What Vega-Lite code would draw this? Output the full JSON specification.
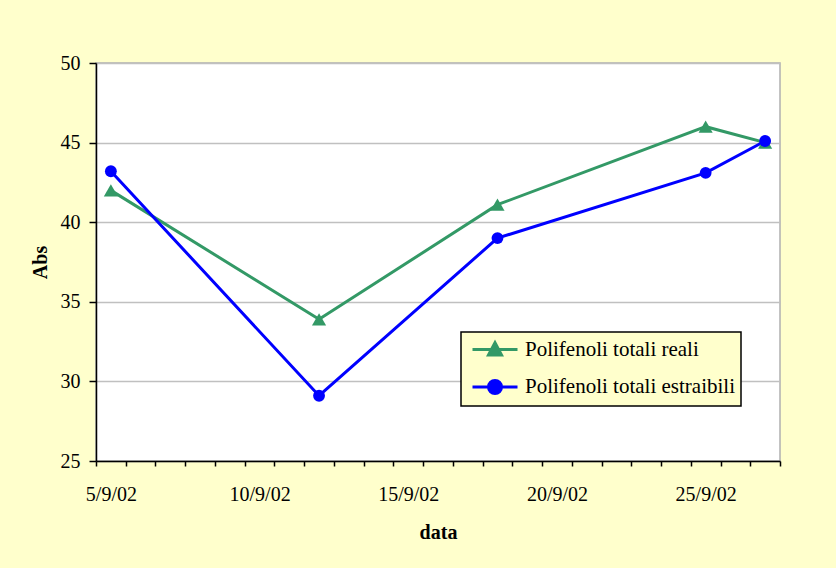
{
  "$schema": "https://vega.github.io/schema/vega-lite/v6.json",
  "width": 684,
  "height": 398,
  "autosize": {"type": "none"},
  "padding": {"left": 96, "top": 63, "right": 56, "bottom": 107},
  "background": "#FFFFCC",
  "config": {
    "font": "Liberation Serif",
    "view": {"fill": "#FFFFFF", "stroke": "#B0B0B0", "strokeWidth": 1.5}
  },
  "data": {
    "values": [
      {"date": "2002-09-05T12:00:00Z", "serie": "Polifenoli totali reali", "abs": 42.0},
      {"date": "2002-09-12T12:00:00Z", "serie": "Polifenoli totali reali", "abs": 33.9},
      {"date": "2002-09-18T12:00:00Z", "serie": "Polifenoli totali reali", "abs": 41.1},
      {"date": "2002-09-25T12:00:00Z", "serie": "Polifenoli totali reali", "abs": 46.0},
      {"date": "2002-09-27T12:00:00Z", "serie": "Polifenoli totali reali", "abs": 45.0},
      {"date": "2002-09-05T12:00:00Z", "serie": "Polifenoli totali estraibili", "abs": 43.2},
      {"date": "2002-09-12T12:00:00Z", "serie": "Polifenoli totali estraibili", "abs": 29.1},
      {"date": "2002-09-18T12:00:00Z", "serie": "Polifenoli totali estraibili", "abs": 39.0},
      {"date": "2002-09-25T12:00:00Z", "serie": "Polifenoli totali estraibili", "abs": 43.1},
      {"date": "2002-09-27T12:00:00Z", "serie": "Polifenoli totali estraibili", "abs": 45.1}
    ]
  },
  "layer": [
    {
      "mark": {"type": "line", "strokeWidth": 3},
      "encoding": {
        "x": {
          "field": "date", "type": "temporal",
          "scale": {"type": "utc", "domain": [{"year": 2002, "month": 9, "date": 5, "utc": true}, {"year": 2002, "month": 9, "date": 28, "utc": true}]},
          "axis": {
            "orient": "bottom",
            "title": "data",
            "titleFont": "Liberation Serif", "titleFontSize": 20, "titleFontWeight": "bold", "titleColor": "#000000",
            "titlePadding": 18,
            "tickCount": {"interval": "day", "step": 1},
            "labelExpr": "utcdate(datum.value) % 5 == 0 && utcdate(datum.value) < 28 ? utcFormat(datum.value, '%-d/%-m/%y') : ''",
            "labelOffset": 14.9,
            "labelFont": "Liberation Serif", "labelFontSize": 20, "labelColor": "#000000",
            "labelPadding": 18, "labelBaseline": "top", "labelOverlap": false, "labelFlush": false,
            "tickSize": 5, "tickColor": "#000000", "tickWidth": 1.5,
            "domainColor": "#000000", "domainWidth": 1.5,
            "grid": false
          }
        },
        "y": {
          "field": "abs", "type": "quantitative",
          "scale": {"domain": [25, 50], "nice": false, "zero": false},
          "axis": {
            "title": "Abs",
            "titleFont": "Liberation Serif", "titleFontSize": 20, "titleFontWeight": "bold", "titleColor": "#000000",
            "titlePadding": 10,
            "values": [25, 30, 35, 40, 45, 50],
            "labelFont": "Liberation Serif", "labelFontSize": 20, "labelColor": "#000000", "labelPadding": 9,
            "tickSize": 7, "tickColor": "#000000", "tickWidth": 1.5,
            "domainColor": "#000000", "domainWidth": 1.5,
            "grid": true, "gridColor": "#C0C0C0", "gridWidth": 1.5
          }
        },
        "color": {
          "field": "serie", "type": "nominal",
          "scale": {"domain": ["Polifenoli totali reali", "Polifenoli totali estraibili"], "range": ["#339966", "#0000FF"]},
          "legend": {
            "title": null,
            "orient": "none", "legendX": 365, "legendY": 269,
            "direction": "vertical",
            "fillColor": "#FFFFCC", "strokeColor": "#000000",
            "padding": 6,
            "labelFont": "Liberation Serif", "labelFontSize": 21, "labelColor": "#000000", "labelOffset": 35, "labelLimit": 400,
            "symbolSize": 400, "symbolStrokeWidth": 3, "rowPadding": 13.5,
            "encode": {
              "legend": {"update": {"strokeWidth": {"value": 1.5}}},
              "symbols": {
                "update": {
                  "shape": {"signal": "datum.value === 'Polifenoli totali reali' ? 'M-0.6,0L3.9,0M1,0.55L1.65,-0.68L2.3,0.55Z' : 'M-0.6,0L3.9,0M2.3,0A0.65,0.65 0 1,1 1,0A0.65,0.65 0 1,1 2.3,0Z'"},
                  "fill": {"signal": "datum.value === 'Polifenoli totali reali' ? '#339966' : '#0000FF'"},
                  "stroke": {"signal": "datum.value === 'Polifenoli totali reali' ? '#339966' : '#0000FF'"},
                  "fillOpacity": {"value": 1},
                  "strokeWidth": {"value": 3}
                }
              }
            }
          }
        }
      }
    },
    {
      "mark": {"type": "point", "filled": true, "opacity": 1},
      "encoding": {
        "x": {"field": "date", "type": "temporal"},
        "y": {"field": "abs", "type": "quantitative"},
        "color": {"field": "serie", "type": "nominal", "legend": null},
        "shape": {
          "condition": {"test": "datum.serie === 'Polifenoli totali reali'", "value": "triangle-up"},
          "value": "circle"
        },
        "size": {
          "condition": {"test": "datum.serie === 'Polifenoli totali reali'", "value": 200},
          "value": 140
        }
      }
    }
  ]
}
